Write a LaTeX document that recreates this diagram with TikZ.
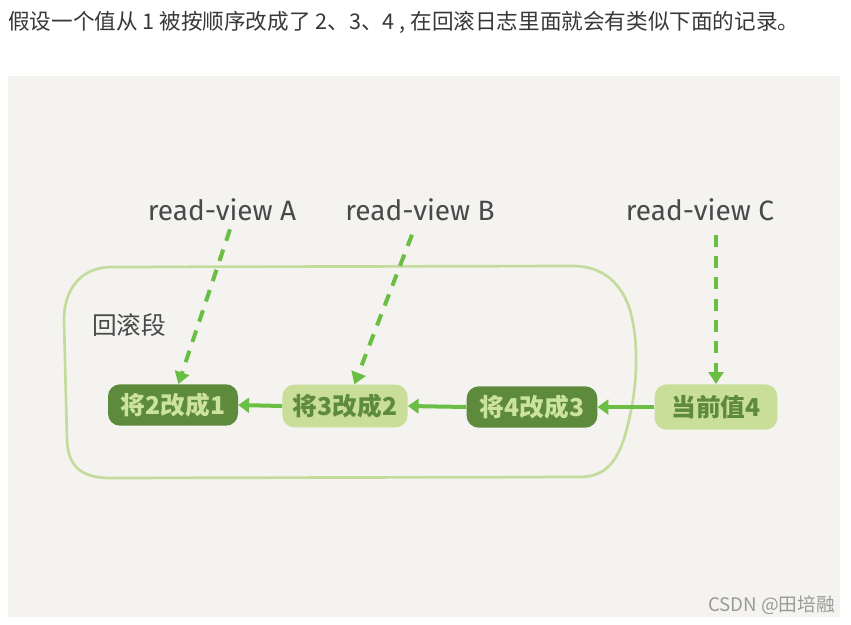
\documentclass[tikz,border=0pt]{standalone}
\usepackage{fontspec}
\setmainfont{Fira Sans}
\newfontfamily\cjk{Noto Sans CJK SC}
\usetikzlibrary{arrows.meta}
\definecolor{panelbg}{HTML}{F4F3EF}
\definecolor{outl}{HTML}{C3DC9C}
\definecolor{darkg}{HTML}{5E8A3C}
\definecolor{lightg}{HTML}{C9DE98}
\definecolor{darktxt}{HTML}{CBE39C}
\definecolor{lighttxt}{HTML}{5E8A3C}
\definecolor{arrowg}{HTML}{6BBE44}
\definecolor{inkgray}{HTML}{464A4B}
\definecolor{toptxt}{HTML}{383838}
\begin{document}
\begin{tikzpicture}[x=0.75pt,y=-0.75pt,
  darkbox/.style={fill=darkg,text=darktxt,rounded corners=9pt,inner sep=0pt,font=\cjk\bfseries\fontsize{18.5pt}{19pt}\selectfont},
  lightbox/.style={fill=lightg,text=lighttxt,rounded corners=9pt,inner sep=0pt,font=\cjk\bfseries\fontsize{18.5pt}{19pt}\selectfont},
  rvlabel/.style={text=inkgray,font=\fontsize{21pt}{22pt}\selectfont,inner sep=0pt},
  dasharrow/.style={draw=arrowg,line width=3pt,dash pattern=on 9pt off 7pt,-{Triangle[length=9pt,width=11pt]}},
  linkarrow/.style={draw=arrowg,line width=3pt,-{Triangle[length=8pt,width=11pt]}},
  outline/.style={draw=outl,line width=2pt}]
\useasboundingbox (0,0) rectangle (851,625);
\fill[white] (0,0) rectangle (851,625);
\fill[panelbg] (8,76) rectangle (840,617);

\node[anchor=west,inner sep=0pt,text=toptxt,font=\cjk\fontsize{16.2pt}{17pt}\selectfont] (title) at (8,22) {假设一个值从 1 被按顺序改成了 2、3、4 , 在回滚日志里面就会有类似下面的记录。};

% rollback segment outline
\draw[outline] (110,267) -- (575,266) .. controls (605,267) and (622,285) .. (630,310)
  .. controls (640,345) and (636,390) .. (630,415)
  .. controls (622,455) and (610,477) .. (580,477)
  -- (110,478) .. controls (80,478) and (68,465) .. (67,440)
  -- (64,320) .. controls (64,290) and (80,268) .. (110,267) -- cycle;

\node[text=inkgray,inner sep=0pt,font=\cjk\fontsize{18.5pt}{19pt}\selectfont] (seg) at (129,325) {回滚段};

\node[darkbox,minimum width=97.5pt,minimum height=31pt] (n1) at (173,405) {将2改成1};
\node[lightbox,minimum width=94pt,minimum height=32pt] (n2) at (345,406) {将3改成2};
\node[darkbox,minimum width=98pt,minimum height=31pt] (n3) at (532,407) {将4改成3};
\node[lightbox,minimum width=92pt,minimum height=34pt] (n4) at (716,407) {当前值4};

\node[rvlabel] (rvA) at (222,210) {read-view A};
\node[rvlabel] (rvB) at (420,210) {read-view B};
\node[rvlabel] (rvC) at (700,210) {read-view C};

\draw[dasharrow] ([xshift=6pt,yshift=-6pt]rvA.south) -- ([xshift=4pt]n1.north);
\draw[dasharrow] ([xshift=-6pt,yshift=-10pt]rvB.south) -- ([xshift=7pt]n2.north);
\draw[dasharrow] ([xshift=12pt,yshift=-10pt]rvC.south) -- (n4.north);

\draw[linkarrow] (n4.west) -- (n3.east);
\draw[linkarrow] (n3.west) -- (n2.east);
\draw[linkarrow] (n2.west) -- (n1.east);

\node[anchor=east,inner sep=0pt,text=black!40,font=\cjk\fontsize{14pt}{15pt}\selectfont] (wm) at (835,605) {CSDN @田培融};
\end{tikzpicture}
\end{document}
